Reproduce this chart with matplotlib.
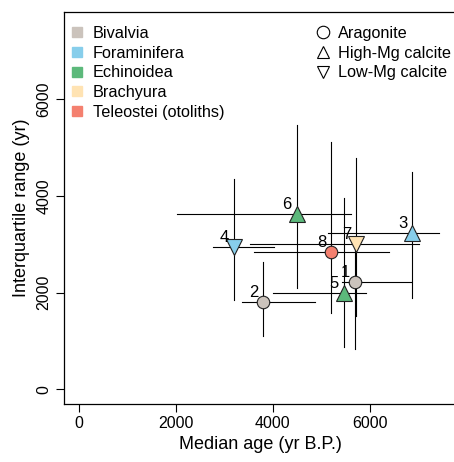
import matplotlib.pyplot as plt
from matplotlib.lines import Line2D

plt.rcParams['font.family'] = ['Liberation Sans', 'DejaVu Sans']

# Values
point_ids = ["1", "2", "3", "4", "5", "6", "7", "8"]
taxa = ["Bivalvia", "Bivalvia", "Foraminifera", "Foraminifera",
        "Echinoidea", "Echinoidea", "Brachyura", "Teleostei (otoliths)"]
minerals = ["Aragonite", "Aragonite", "High-Mg calcite", "Low-Mg calcite",
            "High-Mg calcite", "High-Mg calcite", "Low-Mg calcite", "Aragonite"]
median_age = [5690, 3800, 6880, 3200, 5470, 4495, 5715, 5205]
iqr = [2221, 1800, 3231, 2950, 1990, 3630, 3000, 2840]
age_lo = [5436, 3368, 5141, 2770, 4007, 2027, 3540, 3615]
age_hi = [6860, 4881, 7430, 4027, 5932, 5623, 7017, 6399]
iqr_lo = [830, 1113, 1891, 1856, 880, 2097, 1512, 1581]
iqr_hi = [3150, 2624, 4488, 4351, 3965, 5464, 4790, 5107]

taxon_names = ["Bivalvia", "Foraminifera", "Echinoidea", "Brachyura", "Teleostei (otoliths)"]
taxon_colors = ["#CBC3BC", "#87CEEB", "#5CB97B", "#FFE3B3", "#F4806F"]
mineral_names = ["Aragonite", "High-Mg calcite", "Low-Mg calcite"]
mineral_markers = ["o", "^", "v"]
mineral_sizes = [9, 11, 11]

color_of = dict(zip(taxon_names, taxon_colors))
marker_of = dict(zip(mineral_names, mineral_markers))
size_of = dict(zip(mineral_names, mineral_sizes))

fig = plt.figure(figsize=(4.54, 4.62), dpi=100)
ax = fig.add_axes([64 / 454, 58 / 462, (457 - 64) / 454, (404 - 12) / 462])

# error bars first, points on top
for i in range(len(point_ids)):
    ax.plot([age_lo[i], age_hi[i]], [iqr[i], iqr[i]], color="black", lw=0.8, zorder=1)
    ax.plot([median_age[i], median_age[i]], [iqr_lo[i], iqr_hi[i]], color="black", lw=0.8, zorder=1)

for i in range(len(point_ids)):
    ax.plot(median_age[i], iqr[i], marker=marker_of[minerals[i]], ms=size_of[minerals[i]],
            mfc=color_of[taxa[i]], mec="#222222", mew=0.8, ls="none", zorder=3)
    ax.annotate(point_ids[i], (median_age[i], iqr[i]), xytext=(-6.8, 6.8),
                textcoords="offset points", ha="center", va="center", fontsize=12, zorder=4)

ax.set_xlim(-300, 7800)
ax.set_ylim(-300, 7800)
ax.set_xticks([0, 2000, 4000, 6000])
ax.set_yticks([0, 2000, 4000, 6000])
ax.tick_params(direction="out", length=6, width=0.8, labelsize=11.5, pad=3)
for lab in ax.get_yticklabels():
    lab.set_rotation(90)
    lab.set_va("center")
for s in ax.spines.values():
    s.set_linewidth(0.9)
ax.spines["right"].set_visible(False)

ax.set_xlabel("Median age (yr B.P.)", fontsize=13, labelpad=3)
ax.set_ylabel("Interquartile range (yr)", fontsize=13, labelpad=5)

taxon_handles = [Line2D([], [], marker="s", ls="none", ms=6.5, mfc=c, mec=c) for c in taxon_colors]
leg1 = ax.legend(taxon_handles, taxon_names, loc="upper left", bbox_to_anchor=(0.0124, 0.964),
                 frameon=False, fontsize=11.7, handlelength=1.0, handletextpad=0.48,
                 labelspacing=0.285, borderaxespad=0, borderpad=0)
ax.add_artist(leg1)
mineral_handles = [Line2D([], [], marker=m, ls="none", ms=9, mfc="white", mec="black", mew=0.8)
                   for m in mineral_markers]
ax.legend(mineral_handles, mineral_names, loc="upper left", bbox_to_anchor=(0.638, 0.964),
          frameon=False, fontsize=11.7, handlelength=1.0, handletextpad=0.42,
          labelspacing=0.285, borderaxespad=0, borderpad=0)

fig.savefig("out.png", dpi=100)
